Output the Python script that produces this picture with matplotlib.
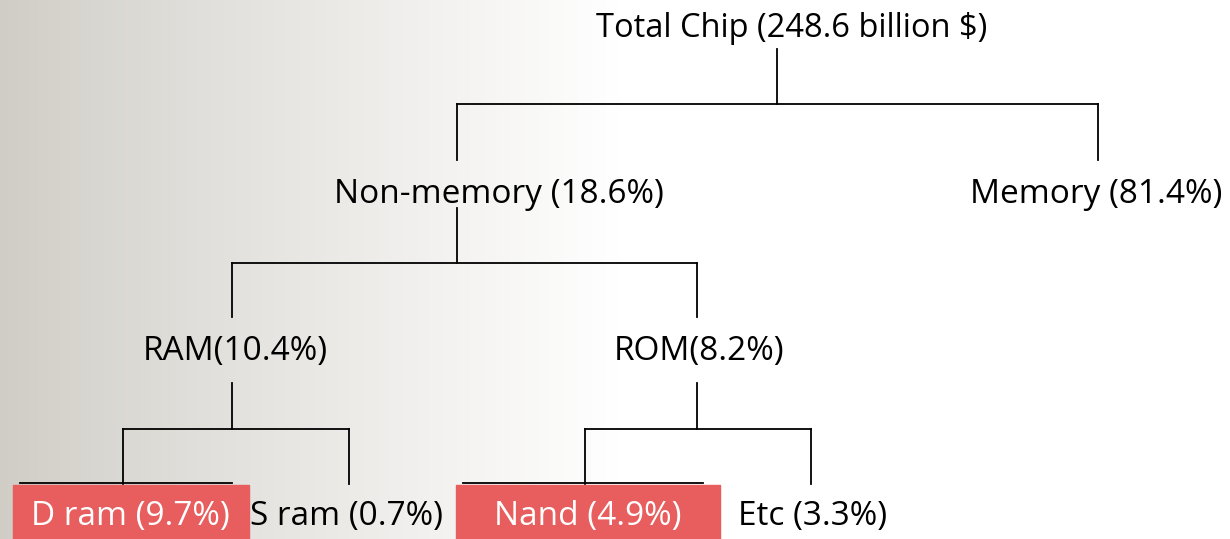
import numpy as np
import matplotlib.pyplot as plt
from matplotlib.patches import Rectangle

plt.rcParams['font.family'] = ['Open Sans', 'DejaVu Sans']

# data
total_value = 248.6
names = ['Non-memory', 'Memory', 'RAM', 'ROM', 'D ram', 'S ram', 'Nand', 'Etc']
shares = [18.6, 81.4, 10.4, 8.2, 9.7, 0.7, 4.9, 3.3]
parents = ['Total', 'Total', 'Non-memory', 'Non-memory', 'RAM', 'RAM', 'ROM', 'ROM']
highlight = ['D ram', 'Nand']

# layout (pixel coords)
W, H = 1230, 539
node_x = {'Total': 777, 'Non-memory': 457, 'Memory': 1098, 'RAM': 232, 'ROM': 697,
          'D ram': 123, 'S ram': 349, 'Nand': 585, 'Etc': 811}
text_x = {'Total': 792, 'Non-memory': 499, 'Memory': 1096, 'RAM': 235, 'ROM': 699,
          'D ram': 130, 'S ram': 347, 'Nand': 588, 'Etc': 813}
# text baselines
level_y = {'Total': 37, 'Non-memory': 203, 'Memory': 203, 'RAM': 360, 'ROM': 360,
           'D ram': 525, 'S ram': 525, 'Nand': 525, 'Etc': 525}
# (stem from parent bottom, bar y, child top)
link_y = {'Total': (49, 104, 160), 'Non-memory': (208, 263, 317), 'RAM': (383, 429, 484),
          'ROM': (383, 429, 484)}
boxes = {'D ram': (13, 249), 'Nand': (456, 720)}
red = '#E85D5D'

fig = plt.figure(figsize=(W / 100, H / 100), dpi=100)
ax = fig.add_axes([0, 0, 1, 1])
ax.set_xlim(0, W)
ax.set_ylim(H, 0)
ax.axis('off')

# background gradient
grad = np.linspace(0, 1, 600)
c0 = np.array([208, 205, 198]) / 255
c1 = np.array([1.0, 1.0, 1.0])
t = np.clip(grad ** 0.9, 0, 1)
img = c0[None, :] * (1 - t[:, None]) + c1[None, :] * t[:, None]
ax.imshow(img[None, :, :], extent=[0, 620, H, 0], aspect='auto', zorder=0)

# connectors
for p, (y0, ym, y1) in link_y.items():
    kids = [n for n, pp in zip(names, parents) if pp == p]
    xs = [node_x[k] for k in kids]
    ax.plot([node_x[p], node_x[p]], [y0, ym], color='black', lw=1.3, zorder=2)
    ax.plot([min(xs), max(xs)], [ym, ym], color='black', lw=1.3, zorder=2)
    for x in xs:
        ax.plot([x, x], [ym, y1], color='black', lw=1.3, zorder=2)

# small caps above the highlighted boxes
for n, (x0, x1) in boxes.items():
    ax.plot([x0 + 7, x1 - 17], [483, 483], color='black', lw=1.3, zorder=2)
    ax.add_patch(Rectangle((x0, 485), x1 - x0, H - 485, color=red, zorder=3))

fs = 24
ax.text(text_x['Total'], level_y['Total'], f'Total Chip ({total_value} billion $)',
        ha='center', va='baseline', fontsize=fs - 0.5, zorder=4)
for n, s in zip(names, shares):
    if n in ('RAM', 'ROM'):
        label = f'{n}({s}%)'
    else:
        label = f'{n} ({s}%)'
    col = 'white' if n in highlight else 'black'
    ax.text(text_x[n], level_y[n], label, ha='center', va='baseline',
            fontsize=fs, color=col, zorder=4)

fig.savefig('out.png', dpi=100)
